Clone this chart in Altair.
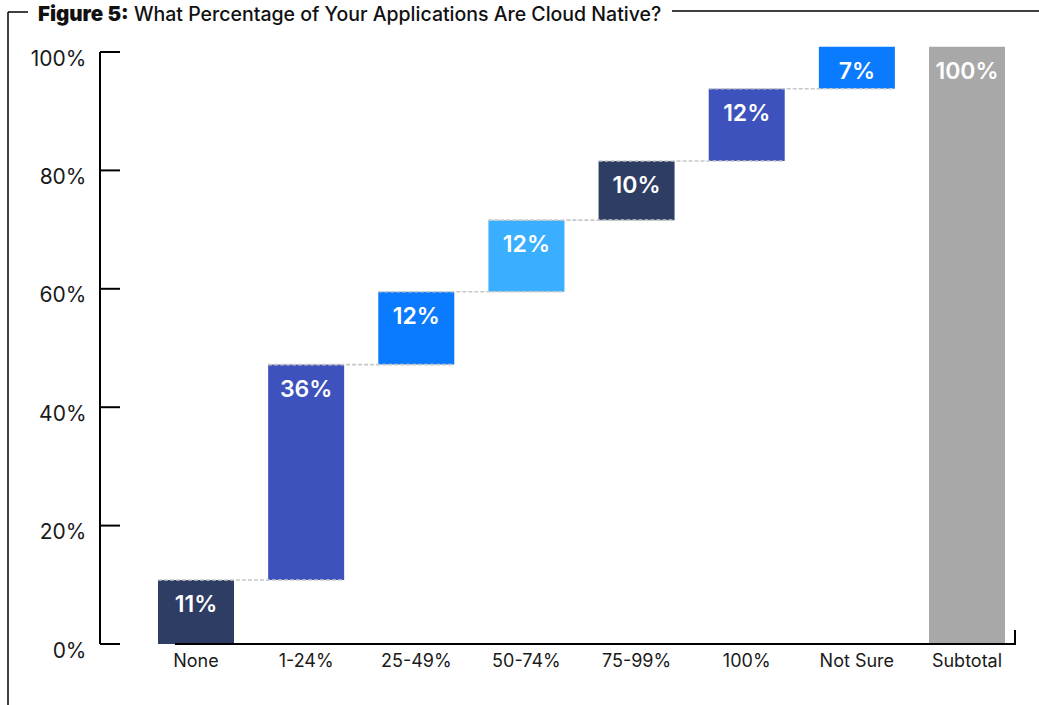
import altair as alt
import pandas as pd

categories = ["None", "1-24%", "25-49%", "50-74%", "75-99%", "100%", "Not Sure", "Subtotal"]
starts = [0.0, 10.8, 47.2, 59.5, 71.6, 81.6, 93.8, 0.0]
ends = [10.8, 47.2, 59.5, 71.6, 81.6, 93.8, 100.9, 100.9]
labels = ["11%", "36%", "12%", "12%", "10%", "12%", "7%", "100%"]
colors = ["#2e3d63", "#3d52bd", "#0a7aff", "#3aaeff", "#2e3d63", "#3d52bd", "#0a7aff", "#a8a8a8"]
y_ticks = [0, 20, 40, 60, 80, 100]
title_bold = "Figure 5:"
title_rest = "What Percentage of Your Applications Are Cloud Native?"

FONT = "Inter"

bars_df = pd.DataFrame({"cat": categories, "start": starts, "end": ends,
                        "label": labels, "color": colors})
conn_df = pd.DataFrame({"cat": categories[:6], "next": categories[1:7], "y": ends[:6]})
ticks_df = pd.DataFrame({"v": y_ticks})
one = pd.DataFrame({"a": [0]})

xscale = alt.Scale(domain=categories, range=[58, 905], paddingInner=0.31, paddingOuter=0)
yscale = alt.Scale(domain=[0, 100], nice=False)

xaxis = alt.Axis(domain=False, ticks=False, grid=False, labelAngle=0, labelFont=FONT,
                 labelFontSize=18, labelColor="#1a1a1a", labelPadding=8, title=None)
yaxis = alt.Axis(values=y_ticks, domain=False, ticks=False, grid=False,
                 labelExpr="datum.value + '%'", labelFont=FONT, labelFontSize=21,
                 labelColor="#1a1a1a", labelPadding=14, labelOffset=7, title=None)

bars = alt.Chart(bars_df).mark_bar(cornerRadius=0).encode(
    x=alt.X("cat:N", scale=xscale, sort=categories, title=None, axis=xaxis),
    y=alt.Y("start:Q", scale=yscale, title=None, axis=yaxis),
    y2="end:Q",
    color=alt.Color("color:N", scale=None),
)

conn = alt.Chart(conn_df).mark_rule(
    color="#c8c8c8", strokeWidth=1.6, strokeDash=[4, 2], xOffset=-38, x2Offset=38
).encode(
    x=alt.X("cat:N", scale=xscale, sort=categories, title=None, axis=xaxis),
    x2="next:N",
    y=alt.Y("y:Q", scale=yscale, title=None, axis=yaxis),
)

texts = alt.Chart(bars_df).mark_text(
    color="white", font=FONT, fontSize=23, fontWeight=600, baseline="middle", dy=25
).encode(
    x=alt.X("cat:N", scale=xscale, sort=categories, title=None, axis=xaxis),
    y=alt.Y("end:Q", scale=yscale, title=None, axis=yaxis),
    text="label:N",
)

yticks = alt.Chart(ticks_df).mark_rule(color="black", strokeWidth=2).encode(
    x=alt.value(0), x2=alt.value(20),
    y=alt.Y("v:Q", scale=yscale, title=None, axis=yaxis)
)

yaxis_line = alt.Chart(one).mark_rule(color="black", strokeWidth=2).encode(
    x=alt.value(0), y=alt.value(0), y2=alt.value(592)
)
xaxis_line = alt.Chart(one).mark_rule(color="black", strokeWidth=2).encode(
    x=alt.value(75), x2=alt.value(916), y=alt.value(592)
)
xaxis_end = alt.Chart(one).mark_rule(color="black", strokeWidth=2).encode(
    x=alt.value(915), y=alt.value(578), y2=alt.value(593)
)

frame_left = alt.Chart(one).mark_rule(color="black", strokeWidth=1.5).encode(
    x=alt.value(-92), y=alt.value(-40), y2=alt.value(660)
)
frame_top_l = alt.Chart(one).mark_rule(color="black", strokeWidth=1.5).encode(
    x=alt.value(-92), x2=alt.value(-72), y=alt.value(-40)
)
frame_top_r = alt.Chart(one).mark_rule(color="black", strokeWidth=1.5).encode(
    x=alt.value(572), x2=alt.value(945), y=alt.value(-41)
)

t1 = alt.Chart(one).mark_text(
    text=title_bold, font=FONT, fontSize=20.5, fontWeight=900, align="left",
    baseline="middle", color="#111111"
).encode(x=alt.value(-62), y=alt.value(-37))
t2 = alt.Chart(one).mark_text(
    text=title_rest, font=FONT, fontSize=19.5, fontWeight=500, align="left",
    baseline="middle", color="#111111"
).encode(x=alt.value(34), y=alt.value(-37))

chart = alt.layer(
    bars, conn, texts, yticks, yaxis_line, xaxis_line, xaxis_end,
    frame_left, frame_top_l, frame_top_r, t1, t2
).properties(
    width=915, height=592,
    background="white",
    autosize=alt.AutoSizeParams(type="none"),
    padding={"left": 100, "top": 52, "right": 24, "bottom": 61},
).configure_view(strokeWidth=0, stroke="transparent")

chart.save("out.html", embed_options={"renderer": "svg", "actions": False})
